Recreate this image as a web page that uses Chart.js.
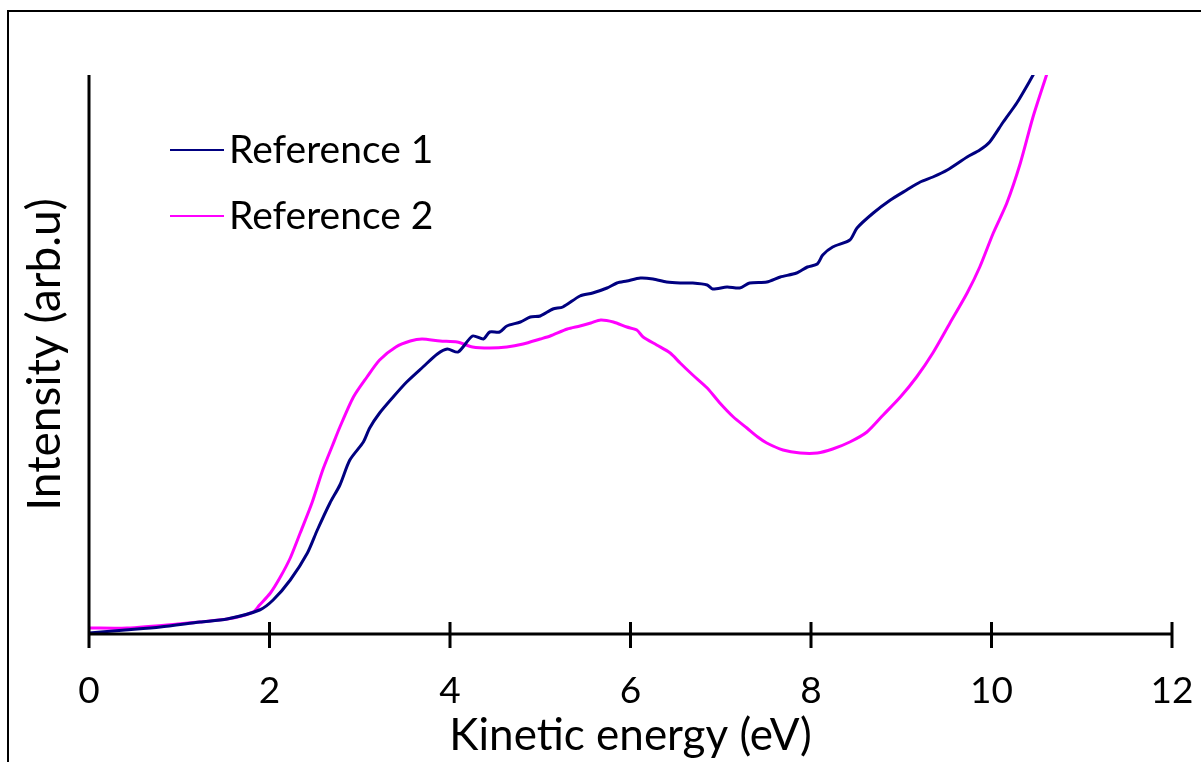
<!DOCTYPE html>
<html>
<head>
<meta charset="utf-8">
<script src="https://cdn.jsdelivr.net/npm/chart.js@4.4.1/dist/chart.umd.min.js"></script>
<style>
    html, body { margin: 0; padding: 0; background: #ffffff; }
    #wrap { position: relative; width: 1201px; height: 762px; }
</style>
</head>
<body>
<div id="wrap"><canvas id="grafico" width="1201" height="762"></canvas></div>
<script>
// Reference 1 (navy)
const energia1 = [0, 0.4, 0.79, 1.23, 1.53, 1.89, 2.04, 2.23, 2.42, 2.53, 2.67, 2.78, 2.89, 3.04, 3.11, 3.22, 3.37, 3.52, 3.70, 3.86, 3.97, 4.09, 4.25, 4.37, 4.44, 4.55, 4.63, 4.78, 4.89, 5.00, 5.14, 5.25, 5.44, 5.58, 5.74, 5.85, 5.96, 6.11, 6.25, 6.40, 6.55, 6.69, 6.85, 6.91, 7.07, 7.21, 7.32, 7.51, 7.66, 7.84, 7.96, 8.07, 8.13, 8.24, 8.43, 8.51, 8.69, 8.88, 9.06, 9.21, 9.35, 9.51, 9.73, 9.87, 9.98, 10.13, 10.28, 10.43, 10.54];
const intensidad1 = [1, 4, 7, 12, 15, 24, 34, 54, 81, 104, 131, 149, 174, 192, 206, 221, 237, 252, 267, 280, 285, 282, 298, 295, 302, 302, 308, 312, 317, 318, 325, 327, 338, 341, 346, 351, 353, 356, 355, 352, 351, 351, 349, 345, 347, 346, 351, 352, 357, 361, 367, 370, 379, 387, 394, 406, 421, 434, 444, 452, 457, 464, 477, 484, 492, 512, 531, 554, 572];

// Reference 2 (magenta)
const energia2 = [0, 0.42, 0.98, 1.53, 1.82, 1.89, 2.01, 2.12, 2.23, 2.34, 2.47, 2.59, 2.70, 2.78, 2.93, 3.08, 3.22, 3.40, 3.56, 3.69, 3.89, 4.08, 4.25, 4.44, 4.63, 4.81, 5.00, 5.11, 5.30, 5.44, 5.56, 5.67, 5.81, 5.96, 6.07, 6.14, 6.29, 6.44, 6.55, 6.69, 6.85, 6.99, 7.14, 7.29, 7.41, 7.51, 7.69, 7.88, 8.07, 8.24, 8.43, 8.62, 8.80, 8.99, 9.17, 9.35, 9.54, 9.73, 9.87, 10.02, 10.17, 10.32, 10.46, 10.61, 10.70];
const intensidad2 = [6, 6, 10, 15, 22, 29, 41, 57, 76, 101, 131, 164, 189, 207, 237, 257, 274, 287, 293, 295, 293, 292, 287, 286, 287, 290, 295, 298, 305, 308, 311, 314, 312, 307, 304, 297, 289, 281, 271, 259, 246, 231, 217, 206, 197, 191, 184, 181, 181, 185, 192, 202, 219, 237, 257, 281, 311, 341, 367, 401, 431, 471, 517, 559, 584];

const ticksX = [0, 2, 4, 6, 8, 10, 12];
const etiquetas = ['Reference 1', 'Reference 2'];
const colores = ['#000080', '#ff00ff'];

const FUENTE = 'Lato, "Open Sans", sans-serif';

const puntos = (xs, ys) => xs.map((x, i) => ({ x: x, y: ys[i] }));

// marco, ejes y leyenda dibujados a mano
const pluginEjes = {
    id: 'ejes',
    afterDraw(chart) {
        const ctx = chart.ctx;
        const area = chart.chartArea;
        const sx = chart.scales.x;
        ctx.save();
        ctx.strokeStyle = '#000000';

        // marco exterior
        ctx.lineWidth = 2;
        ctx.beginPath();
        ctx.moveTo(8, 762);
        ctx.lineTo(8, 11);
        ctx.lineTo(1201, 11);
        ctx.stroke();

        // ejes
        ctx.lineWidth = 3;
        ctx.beginPath();
        ctx.moveTo(area.left, area.top);
        ctx.lineTo(area.left, area.bottom + 14);
        ctx.moveTo(area.left, area.bottom);
        ctx.lineTo(area.right, area.bottom);
        ticksX.forEach(v => {
            const px = sx.getPixelForValue(v);
            ctx.moveTo(px, area.bottom - 12);
            ctx.lineTo(px, area.bottom + 14);
        });
        ctx.stroke();

        // leyenda
        ctx.font = '39px ' + FUENTE;
        ctx.textBaseline = 'middle';
        ctx.fillStyle = '#000000';
        chart.data.datasets.forEach((ds, i) => {
            const y = 150 + i * 66;
            ctx.strokeStyle = ds.borderColor;
            ctx.lineWidth = 2;
            ctx.beginPath();
            ctx.moveTo(170, y);
            ctx.lineTo(224, y);
            ctx.stroke();
            ctx.fillText(ds.label, 229, y);
        });
        ctx.restore();
    }
};

const ctx = document.getElementById('grafico').getContext('2d');
const grafico = new Chart(ctx, {
    type: 'line',
    data: {
        datasets: [
            {
                label: etiquetas[0],
                data: puntos(energia1, intensidad1),
                borderColor: colores[0],
                borderWidth: 3,
                pointRadius: 0,
                fill: false,
                tension: 0.25
            },
            {
                label: etiquetas[1],
                data: puntos(energia2, intensidad2),
                borderColor: colores[1],
                borderWidth: 3,
                pointRadius: 0,
                fill: false,
                tension: 0.25
            }
        ]
    },
    options: {
        responsive: false,
        animation: false,
        layout: {
            padding: { left: 0, top: 75, right: 29, bottom: 0 }
        },
        plugins: {
            legend: { display: false },
            tooltip: { enabled: false }
        },
        scales: {
            x: {
                type: 'linear',
                min: 0,
                max: 12,
                afterFit: s => {
                    s.height = 128;
                    s.paddingLeft = 0;
                    s.paddingRight = 0;
                },
                afterBuildTicks: s => { s.ticks = ticksX.map(v => ({ value: v })); },
                grid: { display: false, drawTicks: false },
                border: { display: false },
                ticks: {
                    color: '#000000',
                    padding: 35,
                    font: { family: FUENTE, size: 37 }
                },
                title: {
                    display: true,
                    text: 'Kinetic energy (eV)',
                    color: '#000000',
                    padding: { top: 0, bottom: 0 },
                    font: { family: FUENTE, size: 44 }
                }
            },
            y: {
                min: 0,
                max: 559,
                afterFit: s => { s.width = 89; },
                grid: { display: false, drawTicks: false },
                border: { display: false },
                ticks: { display: false },
                title: {
                    display: true,
                    text: 'Intensity (arb.u)',
                    color: '#000000',
                    padding: { top: 18, bottom: 0 },
                    font: { family: FUENTE, size: 46 }
                }
            }
        }
    },
    plugins: [pluginEjes]
});
</script>
</body>
</html>
